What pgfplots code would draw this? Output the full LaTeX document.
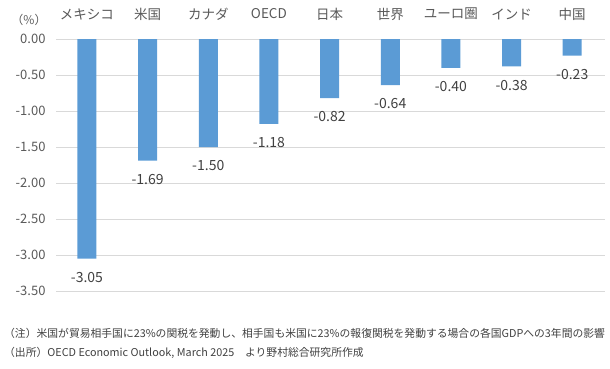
\documentclass[border=0pt]{standalone}
\usepackage{pgfplots}
\pgfplotsset{compat=1.18}
\usepackage{fontspec}
\setmainfont{Noto Sans CJK JP}
\definecolor{barblue}{HTML}{5B9BD5}
\definecolor{tickgrey}{HTML}{595959}
\definecolor{labgrey}{HTML}{404040}
\definecolor{gridgrey}{HTML}{D9D9D9}
\begin{document}
\begin{tikzpicture}[x=1pt,y=1pt]
\useasboundingbox (0,0) rectangle (610,-369);
\begin{axis}[
  at={(56pt,-291pt)}, anchor=south west,
  scale only axis, width=549pt, height=252pt,
  xmin=-0.51, xmax=8.54, ymin=-3.5, ymax=0,
  ybar, bar width=19pt,
  xtick=data,
  xticklabels={メキシコ,米国,カナダ,OECD,日本,世界,ユーロ圏,インド,中国},
  xticklabel pos=upper,
  xticklabel style={anchor=center, yshift=25pt, font=\fontsize{13.5}{16}\selectfont, text=tickgrey},
  ytick={0,-0.5,-1,-1.5,-2,-2.5,-3,-3.5},
  yticklabel style={xshift=-7pt, font=\fontsize{13}{15}\selectfont, text=tickgrey, /pgf/number format/.cd, fixed, fixed zerofill, precision=2, assume math mode=true},
  ymajorgrids, grid style={gridgrey, line width=0.8pt},
  axis line style={draw=none}, major tick length=0pt,
  nodes near coords,
  nodes near coords style={anchor=north, yshift=-10pt, font=\fontsize{14}{16}\selectfont, text=labgrey, /pgf/number format/.cd, fixed, fixed zerofill, precision=2, assume math mode=true},
  clip=false,
]
\addplot[fill=barblue, draw=none] coordinates {(0,-3.05) (1,-1.69) (2,-1.50) (3,-1.18) (4,-0.82) (5,-0.64) (6,-0.40) (7,-0.38) (8,-0.23)};
\end{axis}
\node[anchor=center, font=\fontsize{12}{14}\selectfont, text=tickgrey] at (29,-20) {（\%）};
\node[anchor=west, inner sep=0pt, font=\fontsize{10.8}{13}\selectfont, text=labgrey] at (4,-333) {（注）米国が貿易相手国に23\%の関税を発動し、相手国も米国に23\%の報復関税を発動する場合の各国GDPへの3年間の影響};
\node[anchor=west, inner sep=0pt, font=\fontsize{10.8}{13}\selectfont, text=labgrey] at (4,-353) {（出所）OECD Economic Outlook, March 2025\quad より野村総合研究所作成};
\end{tikzpicture}
\end{document}
